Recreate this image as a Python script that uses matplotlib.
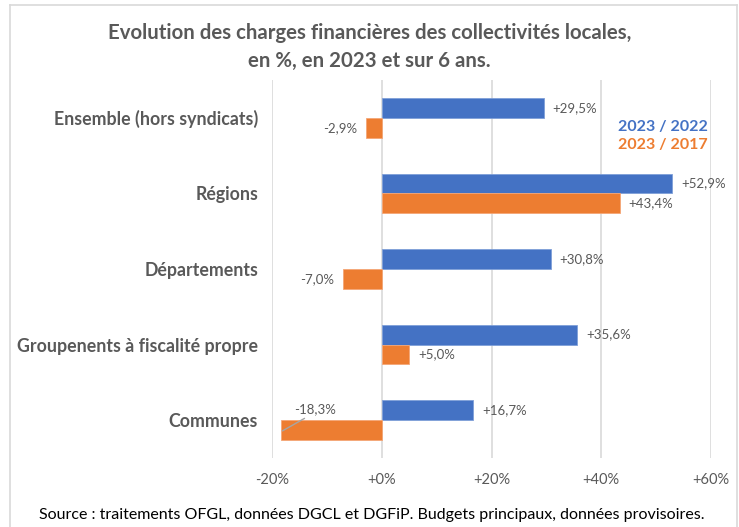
import matplotlib
matplotlib.use("Agg")
import matplotlib.pyplot as plt
import numpy as np
from matplotlib.lines import Line2D

categories = ["Ensemble (hors syndicats)", "Régions", "Départements",
              "Groupenents à fiscalité propre", "Communes"]
v_2022 = [29.5, 52.9, 30.8, 35.6, 16.7]
v_2017 = [-2.9, 43.4, -7.0, 5.0, -18.3]
labels_2022 = ["+29,5%", "+52,9%", "+30,8%", "+35,6%", "+16,7%"]
labels_2017 = ["-2,9%", "+43,4%", "-7,0%", "+5,0%", "-18,3%"]
xticks = [-20, 0, 20, 40, 60]
xticklabels = ["-20%", "+0%", "+20%", "+40%", "+60%"]

BLUE = "#4472C4"
ORANGE = "#ED7D31"
GRAY = "#595959"

plt.rcParams["font.family"] = ["Lato", "DejaVu Sans"]

fig = plt.figure(figsize=(7.39, 5.27), dpi=100)
W, H = 739, 527
ax = fig.add_axes((272 / W, 1 - 458 / H, (711 - 272) / W, (458 - 80) / H))

y = np.arange(len(categories))
h = 20 / 76
ax.barh(y - h / 2, v_2022, height=h, color=BLUE, edgecolor="#7f9fd8", lw=0.6)
ax.barh(y + h / 2, v_2017, height=h, color=ORANGE, edgecolor="#f4a676", lw=0.6)

for i in range(len(categories)):
    v = v_2022[i]
    ax.text(v + 1.6, y[i] - h / 2, labels_2022[i], va="center",
            ha="left" if v >= 0 else "right", fontsize=9.5, color=GRAY)
    v = v_2017[i]
    if i == len(categories) - 1:
        # label placed above, with a leader line
        ax.annotate(labels_2017[i], xy=(-18.1, y[i] + h / 2 + 0.01),
                    xytext=(-12.2, y[i] - 0.07), ha="center", va="bottom",
                    fontsize=9.5, color=GRAY,
                    arrowprops=dict(arrowstyle="-", color="#a6a6a6", lw=1,
                                    shrinkA=1, shrinkB=0,
                                    relpos=(0.4, 0.0)))
    elif v >= 0:
        ax.text(v + 1.6, y[i] + h / 2, labels_2017[i], va="center",
                ha="left", fontsize=9.5, color=GRAY)
    else:
        ax.text(v - 1.6, y[i] + h / 2, labels_2017[i], va="center",
                ha="right", fontsize=9.5, color=GRAY)

ax.set_xlim(-20, 60)
ax.set_ylim(len(categories) - 0.5, -0.5)
ax.set_xticks(xticks)
ax.set_xticklabels(xticklabels, fontsize=10.5, color=GRAY)
ax.set_yticks(y)
ax.set_yticklabels(categories, fontsize=12.8, fontweight="bold", color=GRAY)
ax.tick_params(axis="y", length=0, pad=10)
ax.tick_params(axis="x", length=0, pad=11)
ax.grid(axis="x", color="#d9d9d9", lw=1.2)
ax.set_axisbelow(True)
for s in ax.spines.values():
    s.set_visible(False)

fig.text(0.5, 1 - 47 / H, "Evolution des charges financières des collectivités locales,\n"
         "en %, en 2023 et sur 6 ans.", ha="center", va="center",
         fontsize=14.7, fontweight="bold", color=GRAY, linespacing=1.45)

fig.text(708 / W, 1 - 127 / H, "2023 / 2022", ha="right", va="center",
         fontsize=11.5, fontweight="bold", color=BLUE)
fig.text(708 / W, 1 - 145 / H, "2023 / 2017", ha="right", va="center",
         fontsize=11.5, fontweight="bold", color=ORANGE)

fig.text(372 / W, 1 - 515 / H,
         "Source : traitements OFGL, données DGCL et DGFiP. Budgets principaux, données provisoires.",
         ha="center", va="center", fontsize=11.5, color="black")

# outer frame
fc = "#d9d9d9"
fig.add_artist(Line2D([10 / W, 10 / W], [0, 1 - 5 / H], color=fc, lw=1.2))
fig.add_artist(Line2D([10 / W, 737 / W], [1 - 5 / H, 1 - 5 / H], color=fc, lw=1.2))
fig.add_artist(Line2D([737 / W, 737 / W], [0, 1 - 5 / H], color=fc, lw=1.2))

fig.savefig("out.png", dpi=100)
